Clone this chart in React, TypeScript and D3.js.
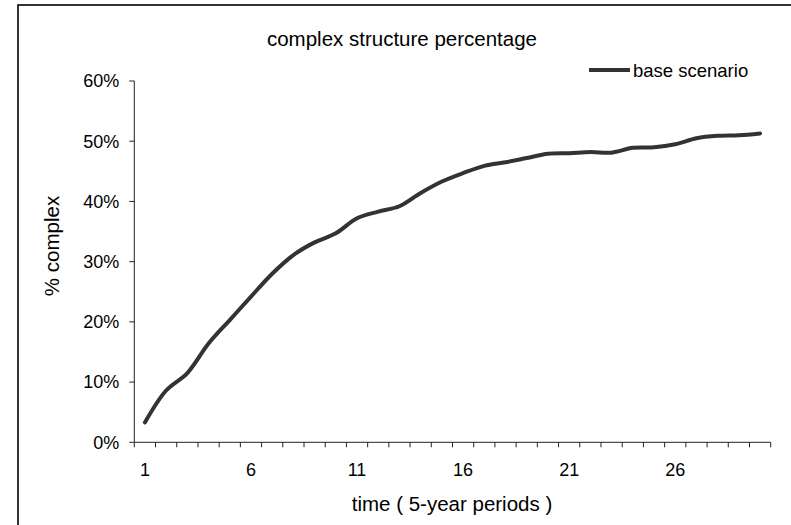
import React from "react";
import * as d3 from "d3";

const periods: number[] = Array.from({ length: 30 }, (_, i) => i + 1);
const baseScenario: number[] = [
  3.3, 8.6, 11.5, 16.4, 20.3, 24.2, 28.0, 31.1, 33.2, 34.7,
  37.2, 38.3, 39.2, 41.4, 43.3, 44.7, 45.9, 46.5, 47.2, 47.9,
  48.0, 48.2, 48.1, 48.9, 49.0, 49.5, 50.5, 50.9, 51.0, 51.3,
];
const yTicks: number[] = [0, 10, 20, 30, 40, 50, 60];
const xLabels: number[] = [1, 6, 11, 16, 21, 26];
const title = "complex structure percentage";
const seriesName = "base scenario";
const xTitle = "time ( 5-year periods )";
const yTitle = "% complex";

const W = 791;
const H = 525;
const left = 134.3;
const right = 770.7;
const top = 81;
const bottom = 442.3;
const font = "Arial, 'Liberation Sans', sans-serif";

export default function App() {
  const x = d3.scaleBand<number>().domain(periods).range([left, right]).padding(0);
  const y = d3.scaleLinear().domain([0, 60]).range([bottom, top]);
  const line = d3
    .line<number>()
    .x((_, i) => (x(periods[i]) as number) + x.bandwidth() / 2)
    .y((d) => y(d))
    .curve(d3.curveCatmullRom.alpha(0.5));

  const tickXs = periods.map((p) => x(p) as number).concat([right]);
  const axisColor = "#222";

  return (
    <svg
      width={W}
      height={H}
      style={{ position: "fixed", left: 0, top: 0, background: "#fff" }}
      fontFamily={font}
    >
      <rect x={0} y={0} width={W} height={H} fill="#fff" />
      {/* chart border (right/bottom outside the view) */}
      <rect x={18} y={5} width={W + 20} height={H + 20} fill="none" stroke="#000" strokeWidth={1.6} />

      <text x={402} y={46} fontSize={20.5} textAnchor="middle" fill="#000">
        {title}
      </text>

      {/* y axis */}
      <line x1={left} x2={left} y1={top} y2={bottom} stroke={axisColor} strokeWidth={1} />
      {yTicks.map((t) => (
        <g key={t}>
          <line x1={left - 5} x2={left} y1={y(t)} y2={y(t)} stroke={axisColor} strokeWidth={1} />
          <text x={left - 15} y={y(t)} dy="0.35em" fontSize={18} textAnchor="end" fill="#000">
            {t}%
          </text>
        </g>
      ))}

      {/* x axis */}
      <line x1={left} x2={right} y1={bottom} y2={bottom} stroke={axisColor} strokeWidth={1} />
      {tickXs.map((tx, i) => (
        <line key={i} x1={tx} x2={tx} y1={bottom} y2={bottom + 5} stroke={axisColor} strokeWidth={1} />
      ))}
      {xLabels.map((l) => (
        <text
          key={l}
          x={(x(l) as number) + x.bandwidth() / 2}
          y={476}
          fontSize={18}
          textAnchor="middle"
          fill="#000"
        >
          {l}
        </text>
      ))}

      <text x={452} y={511} fontSize={20.5} textAnchor="middle" fill="#000">
        {xTitle}
      </text>
      <text
        transform={`translate(59,246) rotate(-90)`}
        fontSize={20.5}
        textAnchor="middle"
        fill="#000"
      >
        {yTitle}
      </text>

      {/* series */}
      <path d={line(baseScenario) || ""} fill="none" stroke="#333" strokeWidth={4} strokeLinejoin="round" strokeLinecap="round" />

      {/* legend */}
      <line x1={589} x2={630} y1={70} y2={70} stroke="#333" strokeWidth={4} />
      <text x={633} y={76.5} fontSize={18.5} fill="#000">
        {seriesName}
      </text>
    </svg>
  );
}
